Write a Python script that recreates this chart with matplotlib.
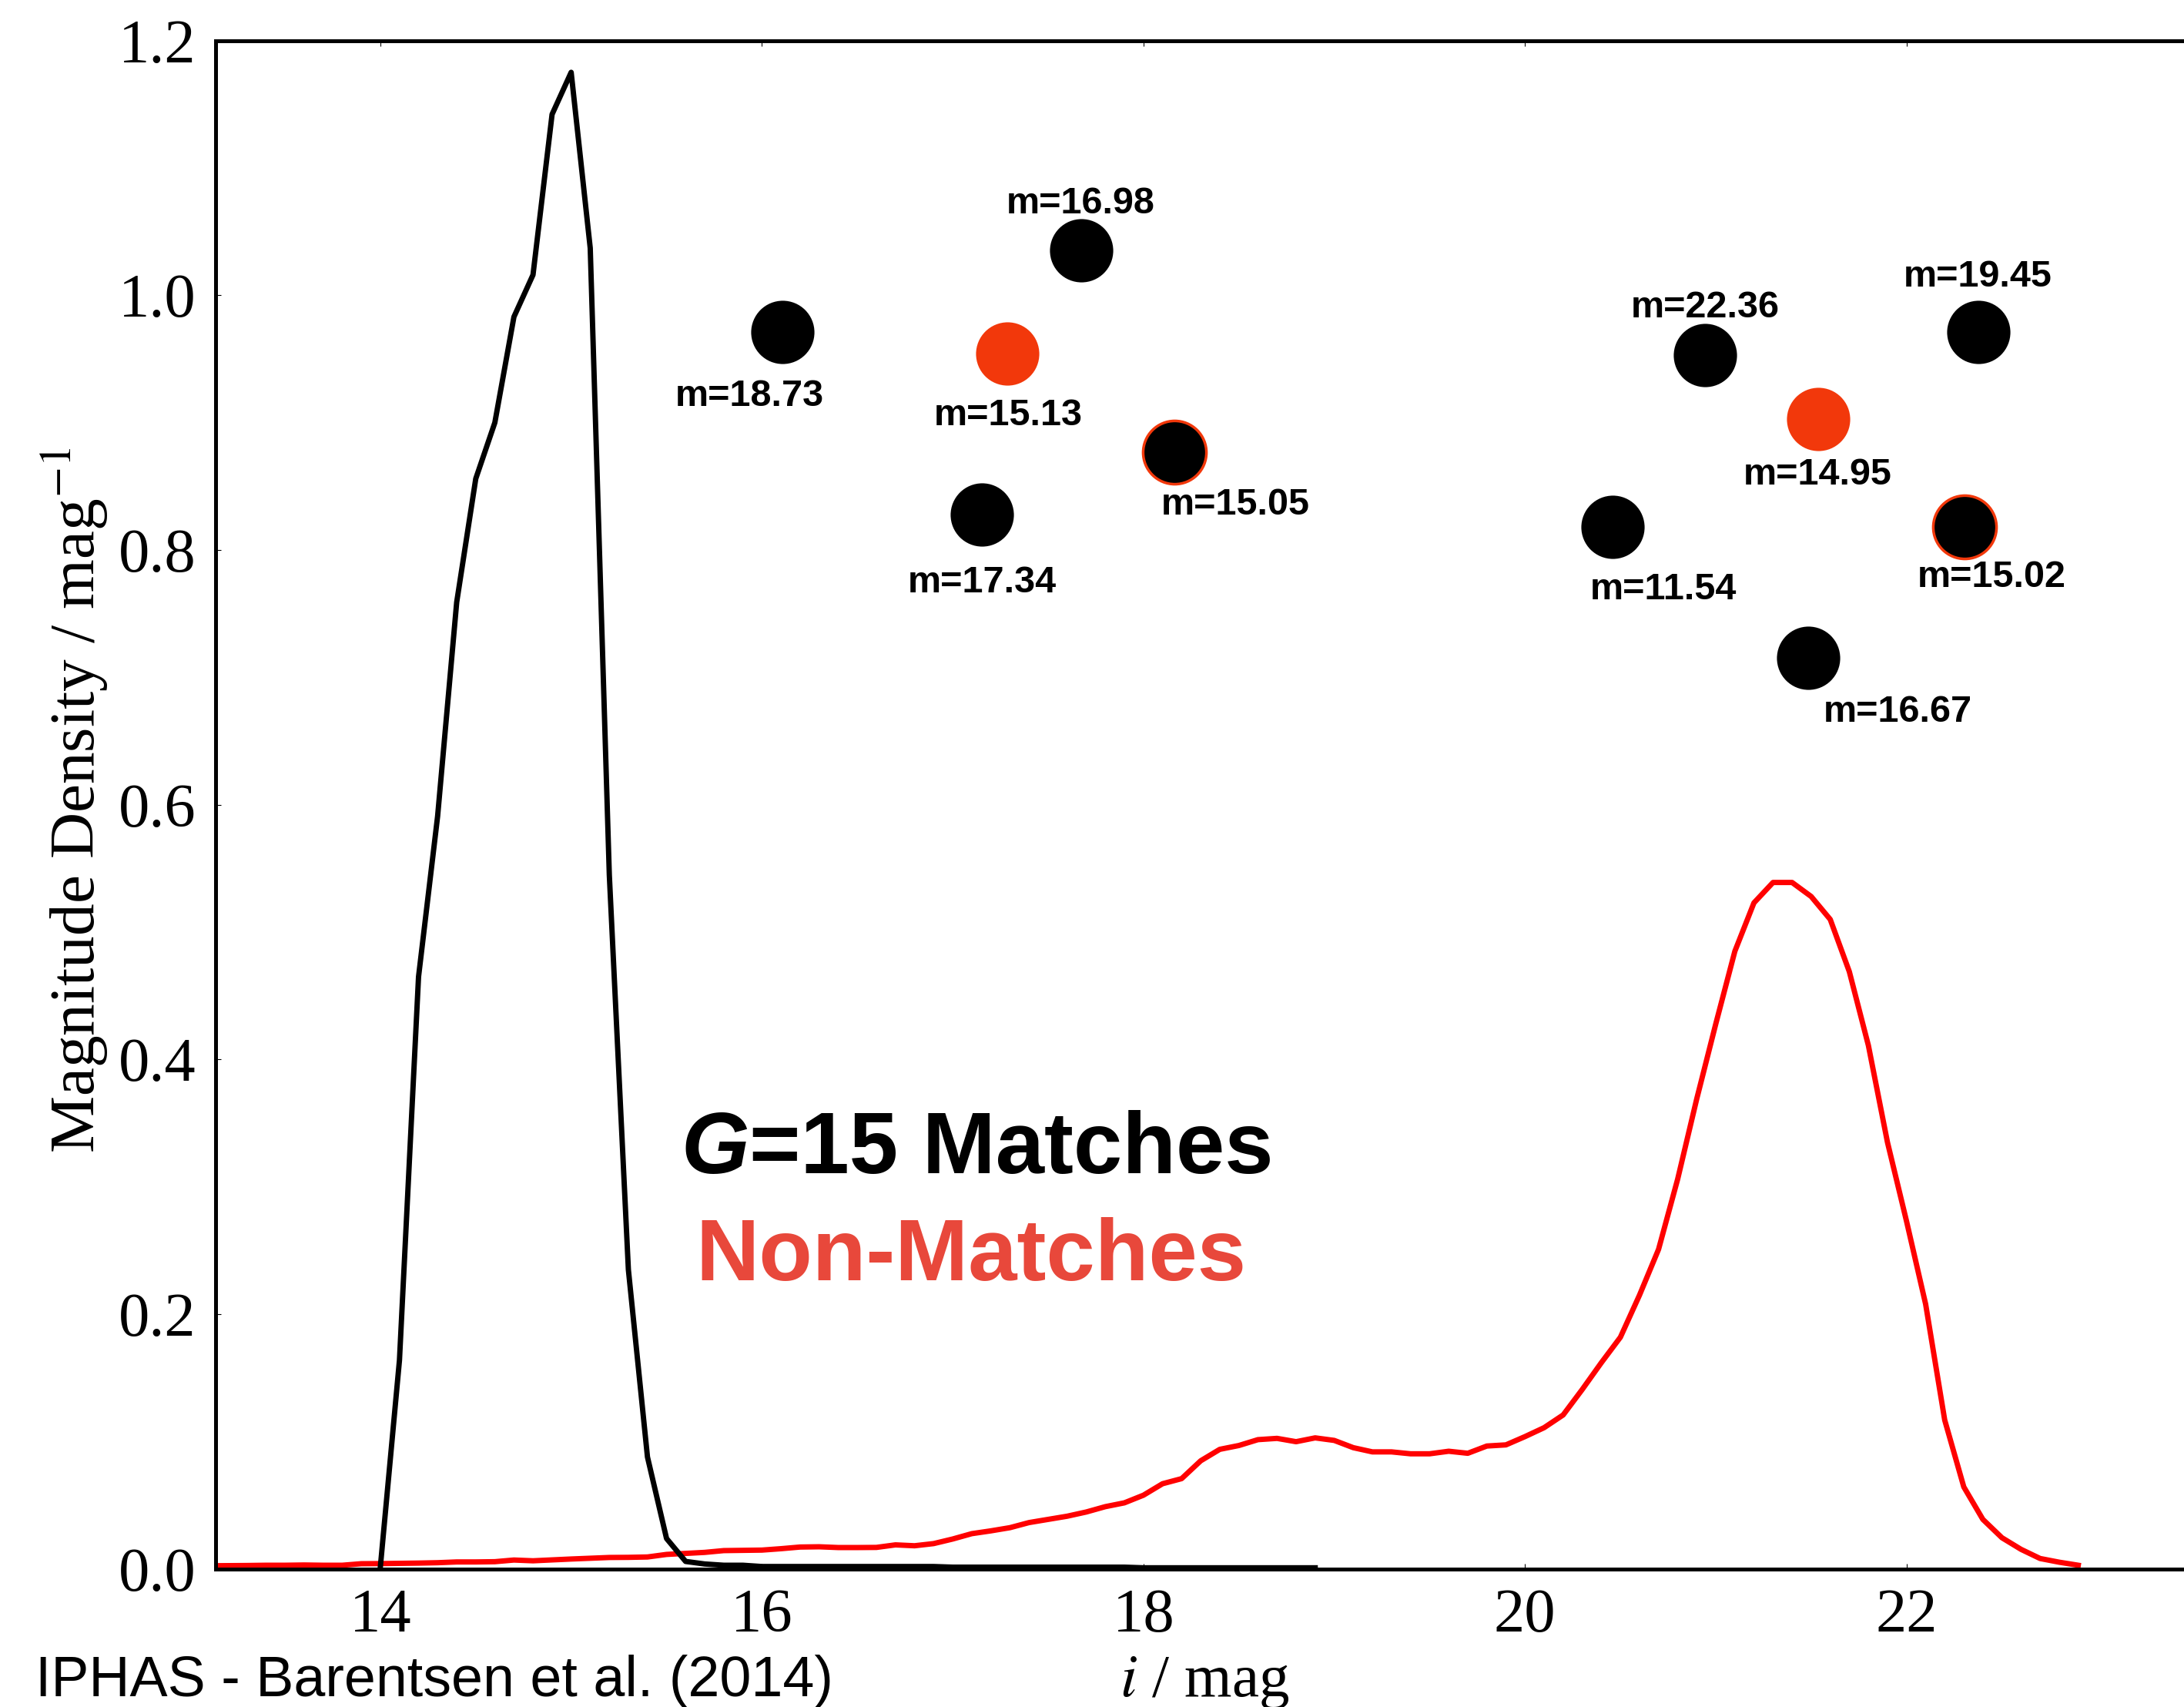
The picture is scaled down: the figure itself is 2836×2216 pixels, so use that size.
import numpy as np
import matplotlib
matplotlib.use("Agg")
import matplotlib.pyplot as plt

plt.rcParams['font.family'] = 'serif'
plt.rcParams['font.serif'] = ['Liberation Serif', 'DejaVu Serif']
plt.rcParams['mathtext.fontset'] = 'stix'

# magnitude density of the G=15 matches (bins of 0.1 mag starting at 14.0)
match_start = 14.0
match_density = [0.002, 0.164, 0.465, 0.591, 0.759, 0.856, 0.900, 0.983, 1.016, 1.142,
                 1.175, 1.037, 0.545, 0.235, 0.088, 0.024, 0.006, 0.004, 0.003, 0.003,
                 0.002, 0.002, 0.002, 0.002, 0.002, 0.002, 0.002, 0.002, 0.002, 0.002,
                 0.0015, 0.0015, 0.0015, 0.0015, 0.0015, 0.0015, 0.0015, 0.0015, 0.0015, 0.0015,
                 0.001, 0.001, 0.001, 0.001, 0.001, 0.001, 0.001, 0.001, 0.001, 0.001]

# magnitude density of the non-matches (bins of 0.1 mag starting at 13.0)
nonmatch_start = 13.0
nonmatch_density = [0.0025, 0.0026, 0.0027, 0.0028, 0.003, 0.003, 0.0032, 0.003, 0.003, 0.0042,
                    0.0043, 0.0045, 0.0047, 0.005, 0.0056, 0.0056, 0.0058, 0.0071, 0.0065, 0.0072,
                    0.0079, 0.0085, 0.0091, 0.0092, 0.0095, 0.0115, 0.0123, 0.0131, 0.0145, 0.0147,
                    0.0149, 0.016, 0.0173, 0.0175, 0.0169, 0.0169, 0.017, 0.019, 0.0183, 0.020,
                    0.0236, 0.0278, 0.030, 0.0325, 0.0365, 0.039, 0.0415, 0.0448, 0.049, 0.052,
                    0.058, 0.067, 0.071, 0.085, 0.094, 0.097, 0.1016, 0.1026, 0.100, 0.103,
                    0.101, 0.0953, 0.092, 0.092, 0.0905, 0.0905, 0.0925, 0.0909, 0.0966, 0.0975,
                    0.104, 0.111, 0.121, 0.141, 0.162, 0.182, 0.215, 0.251, 0.306, 0.369,
                    0.428, 0.485, 0.523, 0.539, 0.539, 0.528, 0.510, 0.469, 0.411, 0.335,
                    0.273, 0.208, 0.117, 0.0645, 0.039, 0.0246, 0.0155, 0.0083, 0.0054, 0.003]

# cartoon of stars in the two fields
star_x = [16.109, 17.672, 17.285, 18.161, 17.154, 20.943, 22.375, 21.535, 22.302, 20.461, 21.484]
star_y = [0.971, 1.035, 0.954, 0.877, 0.828, 0.953, 0.971, 0.9025, 0.818, 0.818, 0.7155]
star_labels = ['m=18.73', 'm=16.98', 'm=15.13', 'm=15.05', 'm=17.34',
               'm=22.36', 'm=19.45', 'm=14.95', 'm=15.02', 'm=11.54', 'm=16.67']
star_kind = ['field', 'field', 'nonmatch', 'match', 'field',
             'field', 'field', 'nonmatch', 'match', 'field', 'field']

xticks = [14, 16, 18, 20, 22]
yticks = [0.0, 0.2, 0.4, 0.6, 0.8, 1.0, 1.2]

# label offsets from each star, pixels (right, down)
label_offsets = [(-43, 83), (0, -61), (2, 80), (80, 69), (0, 89),
                 (0, -61), (0, -72), (0, 72), (36, 65), (65, 81), (116, 71)]

RED_DOT = '#F2380B'
fill = {'field': 'black', 'nonmatch': RED_DOT, 'match': 'black'}
edge = {'field': 'black', 'nonmatch': RED_DOT, 'match': RED_DOT}

match_mag = np.round(match_start + 0.1 * np.arange(len(match_density)), 1)
nonmatch_mag = np.round(nonmatch_start + 0.1 * np.arange(len(nonmatch_density)), 1)

fig = plt.figure(figsize=(28.36, 22.16), dpi=100)
ax = fig.add_axes([0.0987, 0.0808, 0.9059, 0.8955])

ax.plot(nonmatch_mag, nonmatch_density, color='red', lw=5.0)
ax.plot(match_mag, match_density, color='black', lw=5.0)

for x, y, lab, kind, off in zip(star_x, star_y, star_labels, star_kind, label_offsets):
    lw = 2.5 if kind == 'match' else 0
    ax.scatter([x], [y], s=3500, c=fill[kind], edgecolors=edge[kind], linewidths=lw, zorder=3)
    ax.annotate(lab, (x, y), xytext=(off[0], -off[1]), textcoords='offset pixels',
                ha='center', va='center', family='Liberation Sans', weight='bold', fontsize=35)

g = ax.text(15.575, 0.3285, 'G', ha='left', va='center', family='Liberation Sans',
            weight='bold', style='italic', fontsize=82)
ax.annotate('=15 Matches', xy=(1, 0), xycoords=g, ha='left', va='bottom',
            family='Liberation Sans', weight='bold', fontsize=82)
ax.text(17.095, 0.2445, 'Non-Matches', ha='center', va='center', family='Liberation Sans',
        weight='bold', fontsize=82, color='#E8483B')

ax.set_xlim(13.136, 23.507)
ax.set_ylim(0, 1.2)
ax.set_xticks(xticks)
ax.set_yticks(yticks)
ax.set_yticklabels(['%.1f' % v for v in yticks])
ax.tick_params(direction='in', length=5, width=0.8, top=True, right=True, labelsize=58, pad=18)
for s in ax.spines.values():
    s.set_linewidth(3.6)

ax.set_xlabel('$i$ / mag', fontsize=57, va='baseline')
ax.xaxis.set_label_coords(0.5, -0.0831)
ax.set_ylabel('Magnitude Density / mag$^{-1}$', fontsize=60)
ax.yaxis.set_label_coords(-0.053, 0.503)

fig.text(46 / 2836, 14 / 2216, 'IPHAS - Barentsen et al. (2014)', family='Liberation Sans',
         fontsize=53, va='baseline')

fig.savefig('out.png', dpi=100)
